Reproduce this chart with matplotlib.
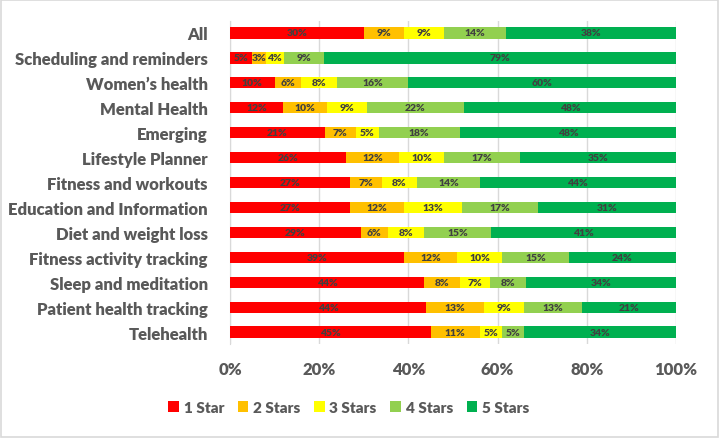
import numpy as np
import matplotlib.pyplot as plt

categories = ["All", "Scheduling and reminders", "Women\u2019s health", "Mental Health",
              "Emerging", "Lifestyle Planner", "Fitness and workouts",
              "Education and Information", "Diet and weight loss",
              "Fitness activity tracking", "Sleep and meditation",
              "Patient health tracking", "Telehealth"]
star1 = [30, 5, 10, 12, 21, 26, 27, 27, 29, 39, 44, 44, 45]
star2 = [9, 3, 6, 10, 7, 12, 7, 12, 6, 12, 8, 13, 11]
star3 = [9, 4, 8, 9, 5, 10, 8, 13, 8, 10, 7, 9, 5]
star4 = [14, 9, 16, 22, 18, 17, 14, 17, 15, 15, 8, 13, 5]
star5 = [38, 79, 60, 48, 48, 35, 44, 31, 41, 24, 34, 21, 34]
series_names = ["1 Star", "2 Stars", "3 Stars", "4 Stars", "5 Stars"]
colors = ["#ff0000", "#ffc000", "#ffff00", "#92d050", "#00b050"]

plt.rcParams["font.family"] = ["Lato", "DejaVu Sans"]
fig = plt.figure(figsize=(7.19, 4.39), dpi=100)
ax = fig.add_axes([0.32, 0.213, 0.62, 0.738])

data = np.array([star1, star2, star3, star4, star5], dtype=float)
shares = data / data.sum(axis=0) * 100
y = np.arange(len(categories))
left = np.zeros(len(categories))
for i in range(5):
    ax.barh(y, shares[i], left=left, height=0.45, color=colors[i], label=series_names[i], zorder=3)
    for j in range(len(categories)):
        ax.text(left[j] + shares[i][j] / 2, y[j], f"{int(data[i][j])}%", ha="center", va="center",
                fontsize=7.5, fontweight="heavy", color="#404040", zorder=4)
    left += shares[i]

ax.set_xlim(0, 100)
ax.set_ylim(len(categories) - 0.5, -0.5)
ax.set_yticks(y)
ax.set_yticklabels(categories, fontsize=12, fontweight="heavy", color="#595959")
ax.set_xticks(np.arange(0, 101, 20))
ax.set_xticklabels([f"{v}%" for v in range(0, 101, 20)], fontsize=12, fontweight="heavy", color="#595959")
ax.tick_params(axis="both", length=0)
ax.tick_params(axis="x", pad=12)
ax.tick_params(axis="y", pad=16)
ax.grid(axis="x", color="#d9d9d9", linewidth=1, zorder=0)
for s in ["top", "right", "bottom"]:
    ax.spines[s].set_visible(False)
ax.spines["left"].set_color("#d9d9d9")

leg = fig.legend(loc="center", bbox_to_anchor=(0.485, 0.07), ncol=5, frameon=False,
                 prop={"size": 11, "weight": "heavy"}, handlelength=0.7, handleheight=0.7,
                 handletextpad=0.3, columnspacing=0.9)
for t in leg.get_texts():
    t.set_color("#595959")

fig.patches.append(plt.Rectangle((0.002, 0.003), 0.996, 0.994, transform=fig.transFigure,
                                 fill=False, edgecolor="#d9d9d9", linewidth=1.2))
fig.savefig("out.png", dpi=100)
